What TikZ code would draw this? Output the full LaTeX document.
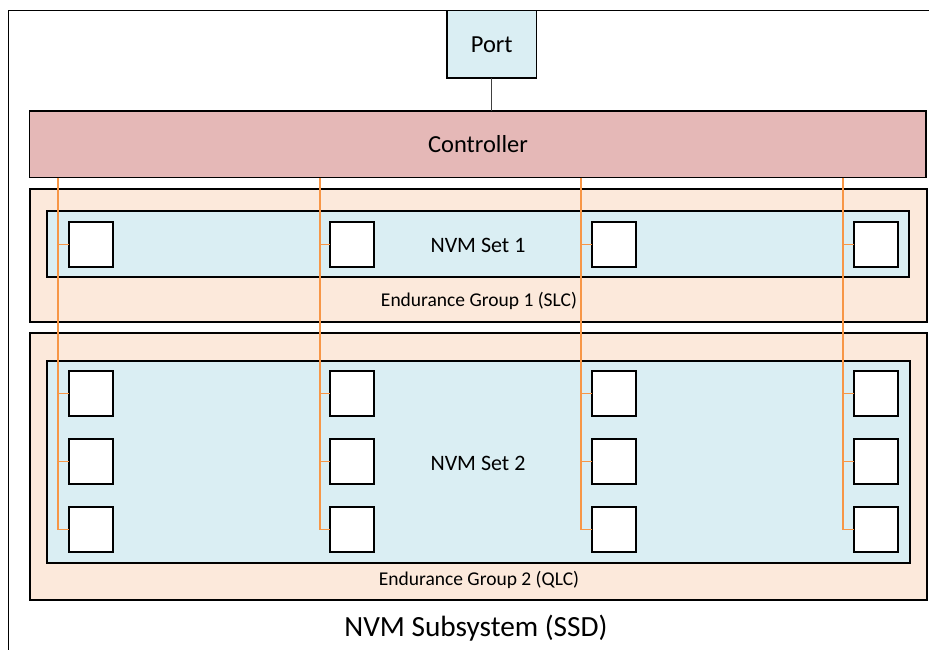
\documentclass[tikz,border=0pt]{standalone}
\usepackage{fontspec}
\setmainfont{Carlito}
\definecolor{ctrlfill}{RGB}{229,184,183}
\definecolor{egfill}{RGB}{252,233,219}
\definecolor{setfill}{RGB}{218,238,243}
\definecolor{busorange}{RGB}{247,150,70}
\begin{document}
\begin{tikzpicture}[x=1pt,y=-1pt,
  box/.style={draw=black,line width=1.35pt,rectangle,inner sep=0pt,outer sep=0pt},
  nvmbox/.style={box,fill=white,minimum width=44pt,minimum height=45pt,anchor=north west},
  bus/.style={draw=busorange,line width=1.5pt},
  stub/.style={draw=busorange,line width=1pt},
  lbl/.style={inner sep=0pt,anchor=center}]
\useasboundingbox (0,0) rectangle (929,649);
\clip (0,0) rectangle (929,649);
% outer subsystem box (extends beyond the picture on the right and bottom)
\draw[line width=1.35pt] (8.3,700) -- (8.3,10.8) -- (960,10.8);
% port
\node[box,fill=setfill,minimum width=89.5pt,minimum height=67.5pt,anchor=north west] (port) at (447,10.5) {};
\node[lbl,font=\fontsize{24.5}{27}\selectfont] at (port.center) {Port};
% controller
\node[box,fill=ctrlfill,minimum width=896.5pt,minimum height=66.5pt,anchor=north west] (ctrl) at (29.5,111) {};
\node[lbl,font=\fontsize{24.5}{27}\selectfont] at (478,144) {Controller};
\draw[line width=0.9pt,black!75] (port.south) -- (port.south |- ctrl.north);
% endurance group 1
\node[box,fill=egfill,minimum width=897pt,minimum height=133pt,anchor=north west] (eg1) at (30,189) {};
\node[box,fill=setfill,minimum width=862pt,minimum height=66pt,anchor=north west] (set1) at (47,211) {};
\node[lbl,font=\fontsize{22}{24}\selectfont] at (478,245) {NVM Set 1};
\node[lbl,font=\fontsize{19.5}{22}\selectfont] at (479,301) {Endurance Group 1 (SLC)};
% endurance group 2
\node[box,fill=egfill,minimum width=897pt,minimum height=267pt,anchor=north west] (eg2) at (30,333) {};
\node[box,fill=setfill,minimum width=863pt,minimum height=202pt,anchor=north west] (set2) at (47,361) {};
\node[lbl,font=\fontsize{22}{24}\selectfont] at (478,463) {NVM Set 2};
\node[lbl,font=\fontsize{19.5}{22}\selectfont] at (479,580) {Endurance Group 2 (QLC)};
% subsystem label
\node[lbl,font=\fontsize{29.3}{32}\selectfont] at (476,628) {NVM Subsystem (SSD)};
% NVM media boxes
\foreach \c/\x in {1/69,2/330,3/592,4/854}{
  \node[nvmbox] (a\c) at (\x,222) {};
  \node[nvmbox] (b\c) at (\x,371) {};
  \node[nvmbox] (d\c) at (\x,439) {};
  \node[nvmbox] (e\c) at (\x,507) {};
}
% bus lines from the controller
\foreach \c/\bx in {1/58,2/320,3/581,4/843}{
  \coordinate (bus\c) at (\bx,529.5);
  \draw[bus] (ctrl.south -| bus\c) -- (bus\c);
  \draw[stub] (a\c.west -| bus\c) -- (a\c.west);
  \draw[stub] (b\c.west -| bus\c) -- (b\c.west);
  \draw[stub] (d\c.west -| bus\c) -- (d\c.west);
  \draw[stub] (e\c.west -| bus\c) -- (e\c.west);
}
\end{tikzpicture}
\end{document}
